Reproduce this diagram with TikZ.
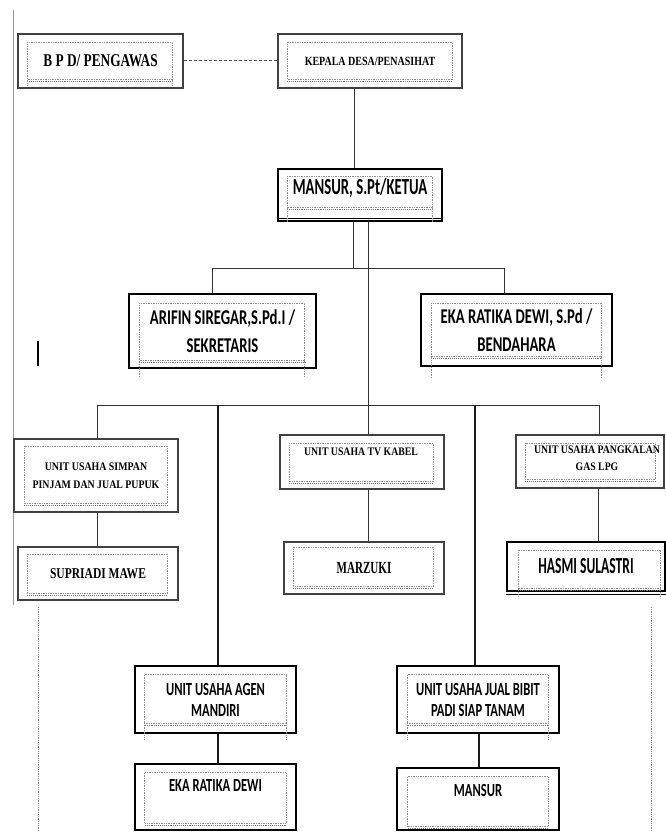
\documentclass[tikz,border=0pt]{standalone}
\usepackage{fontspec}
\setmainfont{Liberation Serif}
\setsansfont{Carlito}
\usepackage{graphicx}
\usetikzlibrary{positioning}
\newcommand{\sqz}[2][0.7]{\scalebox{#1}[1]{#2}}
\newcommand{\sqr}[2][0.85]{\scalebox{#1}[1]{#2}}
% inner dotted frame: node, left, top, right, bottom inset
\newcommand{\inbox}[5]{%
  \draw[innerline] ([shift={(#2,#3)}]#1.north west) rectangle ([shift={(-#4,-#5)}]#1.south east);
  \draw[innerbase] ([shift={(#2,-#5+2)}]#1.south west) -- ([shift={(-#4,-#5+2)}]#1.south east);}
% dotted legs below inner frame: node, left, right, bottom inset, drop
\newcommand{\inlegs}[5]{%
  \draw[innerline] ([shift={(#2,-#4)}]#1.south west) -- ([shift={(#2,#5)}]#1.south west);
  \draw[innerline] ([shift={(-#3,-#4)}]#1.south east) -- ([shift={(-#3,#5)}]#1.south east);}

\begin{document}
\begin{tikzpicture}[
  x=1pt, y=-1pt,
  thinbox/.style={draw=black!75, line width=1.1pt, inner sep=0pt, align=center},
  midbox/.style={draw=black, line width=1.5pt, inner sep=0pt, align=center},
  heavybox/.style={draw=black, line width=2.4pt, inner sep=0pt, align=center},
  innerline/.style={draw=black!45, densely dotted, line width=0.7pt},
  innerbase/.style={draw=black!55, densely dotted, line width=0.9pt},
  link/.style={draw=black!80, line width=1pt},
  boldlink/.style={draw=black!90, line width=1.7pt},
  dashlink/.style={draw=black!70, line width=1pt, dash pattern=on 3pt off 2pt},
  rtext/.style 2 args={font=\rmfamily\bfseries\fontsize{#1}{#2}\selectfont, align=center},
  stext/.style 2 args={font=\sffamily\bfseries\fontsize{#1}{#2}\selectfont, align=center},
]
\useasboundingbox (0,0) rectangle (666,832);
\clip (0,0) rectangle (666,832);

% ===== page margins =====
\draw[black!40, line width=0.8pt] (13,10) -- (13,605);
\draw[black!50, densely dotted, line width=0.8pt] (38,607) -- (38,832);
\draw[black!50, densely dotted, line width=0.8pt] (651,607) -- (651,832);
\draw[black, line width=1.6pt] (38,341) -- (38,366);

% ===== top level =====
\node[thinbox, minimum width=165pt, minimum height=54pt, rtext={18}{20}]
  (bpd) at (100.5,61) {\sqr[0.74]{B P D/ PENGAWAS}};
\node[thinbox, minimum width=184pt, minimum height=54pt, rtext={12.5}{14}]
  (kepala) at (370,61) {\sqr[0.8]{KEPALA DESA/PENASIHAT}};
\inbox{bpd}{10}{9}{11}{9}
\inlegs{bpd}{10}{11}{9}{-3}
\inbox{kepala}{10}{9}{10}{9}

\node[midbox, minimum width=164pt, minimum height=52pt] (ketua) at (360,195) {};
\node[stext={23}{25}] (ketua-t) at (360,188) {\sqz[0.64]{MANSUR, S.Pt/KETUA}};
\draw[line width=1pt] ([yshift=3pt]ketua.south west) -- ([yshift=3pt]ketua.south east);
\inbox{ketua}{10}{8}{10}{14}
\inlegs{ketua}{10}{10}{14}{0}

% ===== secretary / treasurer =====
\node[midbox, minimum width=187pt, minimum height=74pt, stext={21}{28}]
  (sekr) at (222.5,331) {\sqz{ARIFIN SIREGAR,S.Pd.I /}\\\sqz{SEKRETARIS}};
\node[midbox, minimum width=191pt, minimum height=72pt, stext={21}{28}]
  (bend) at (516.5,330) {\sqz{EKA RATIKA DEWI, S.Pd /}\\\sqz{BENDAHARA}};
\inbox{sekr}{11}{10}{12}{8}
\inlegs{sekr}{11}{12}{8}{9}
\inbox{bend}{11}{10}{11}{10}
\inlegs{bend}{11}{11}{10}{11}

% ===== business units =====
\node[thinbox, minimum width=164pt, minimum height=73pt, rtext={11.6}{18}]
  (simpan) at (96,475.5) {\sqr{UNIT USAHA SIMPAN}\\\sqr{PINJAM DAN JUAL PUPUK}};
\node[thinbox, minimum width=160pt, minimum height=53pt, rtext={15}{16}]
  (supriadi) at (98,573.5) {\sqr[0.77]{SUPRIADI MAWE}};
\inbox{simpan}{11}{8}{11}{9}
\inbox{supriadi}{10}{8}{11}{7}

\node[thinbox, minimum width=164pt, minimum height=54pt] (tv) at (362,462) {};
\node[rtext={11.5}{14}] (tv-t) at (361,452) {\sqr{UNIT USAHA TV KABEL}};
\node[thinbox, minimum width=160pt, minimum height=52pt, rtext={17}{18}]
  (marzuki) at (364,568) {\sqr[0.65]{MARZUKI}};
\inbox{tv}{10}{9}{11}{8}
\inbox{marzuki}{10}{6}{11}{8}

\node[thinbox, minimum width=148pt, minimum height=53pt] (pangkalan) at (590,461.5) {};
\node[rtext={11.5}{17}] (pangkalan-t) at (597,458.5)
  {\sqr{UNIT USAHA PANGKALAN}\\\sqr{GAS LPG}};
\node[midbox, minimum width=158pt, minimum height=49pt, stext={23}{25}]
  (hasmi) at (586,566.5) {\sqz[0.59]{HASMI SULASTRI}};
\draw[line width=1pt] ([yshift=-3pt]hasmi.south west) -- ([yshift=-3pt]hasmi.south east);
\inbox{pangkalan}{10}{9}{9}{9}
\inbox{hasmi}{12}{9}{5}{3}
\inlegs{hasmi}{12}{5}{3}{4}

% ===== lower units =====
\node[heavybox, minimum width=161pt, minimum height=67pt, stext={18.5}{21}]
  (agen) at (215.5,699.5) {\sqz[0.68]{UNIT USAHA AGEN}\\\sqz[0.68]{MANDIRI}};
\node[heavybox, minimum width=162pt, minimum height=67pt, stext={18.5}{21}]
  (jual) at (478,699.5) {\sqz[0.68]{UNIT USAHA JUAL BIBIT}\\\sqz[0.68]{PADI SIAP TANAM}};
\inbox{agen}{11}{10}{11}{11}
\inlegs{agen}{11}{11}{11}{5}
\inbox{jual}{12}{10}{12}{11}
\inlegs{jual}{12}{12}{11}{5}

\node[heavybox, minimum width=161pt, minimum height=66pt] (ekadewi) at (215.5,797) {};
\node[stext={18.5}{21}] (ekadewi-t) at (215.5,785) {\sqz[0.68]{EKA RATIKA DEWI}};
\node[heavybox, minimum width=162pt, minimum height=62pt] (mansur) at (478,799) {};
\node[stext={18.5}{21}] (mansur-t) at (478,790) {\sqz[0.68]{MANSUR}};
\inbox{ekadewi}{11}{10}{11}{8}
\inbox{mansur}{12}{10}{12}{5}

% ===== connectors =====
\draw[dashlink] (bpd) -- (kepala);
\draw[link] ([xshift=-16pt]kepala.south) -- ([xshift=-6pt]ketua.north);
\draw[link] ([xshift=-7pt]ketua.south) -- ++(0,47) coordinate (b1);
\draw[link] ([xshift=-10.5pt]sekr.north) |- (b1) -| ([xshift=-12.5pt]bend.north);
\draw[link] ([xshift=8pt]ketua.south) -- ([xshift=6pt]tv.north);
\path ([xshift=6pt]tv.north) ++(0,-29) coordinate (b2);
\draw[link] ([xshift=1pt]simpan.north) |- (b2) -| ([xshift=9pt]pangkalan.north);
\draw[boldlink] ([xshift=2.5pt]agen.north) -- ([xshift=2.5pt]agen.north |- b2);
\draw[boldlink] ([xshift=-3pt]jual.north) -- ([xshift=-3pt]jual.north |- b2);

\draw[link] ([xshift=1pt]simpan.south) -- ([xshift=-1pt]supriadi.north);
\draw[link] ([xshift=6pt]tv.south) -- ([xshift=4pt]marzuki.north);
\draw[link] ([xshift=8pt]pangkalan.south) -- ([xshift=12pt]hasmi.north);
\draw[boldlink] ([xshift=2.5pt]agen.south) -- ([xshift=2.5pt]ekadewi.north);
\draw[boldlink] ([xshift=1pt]jual.south) -- ([xshift=1pt]mansur.north);
\end{tikzpicture}
\end{document}
